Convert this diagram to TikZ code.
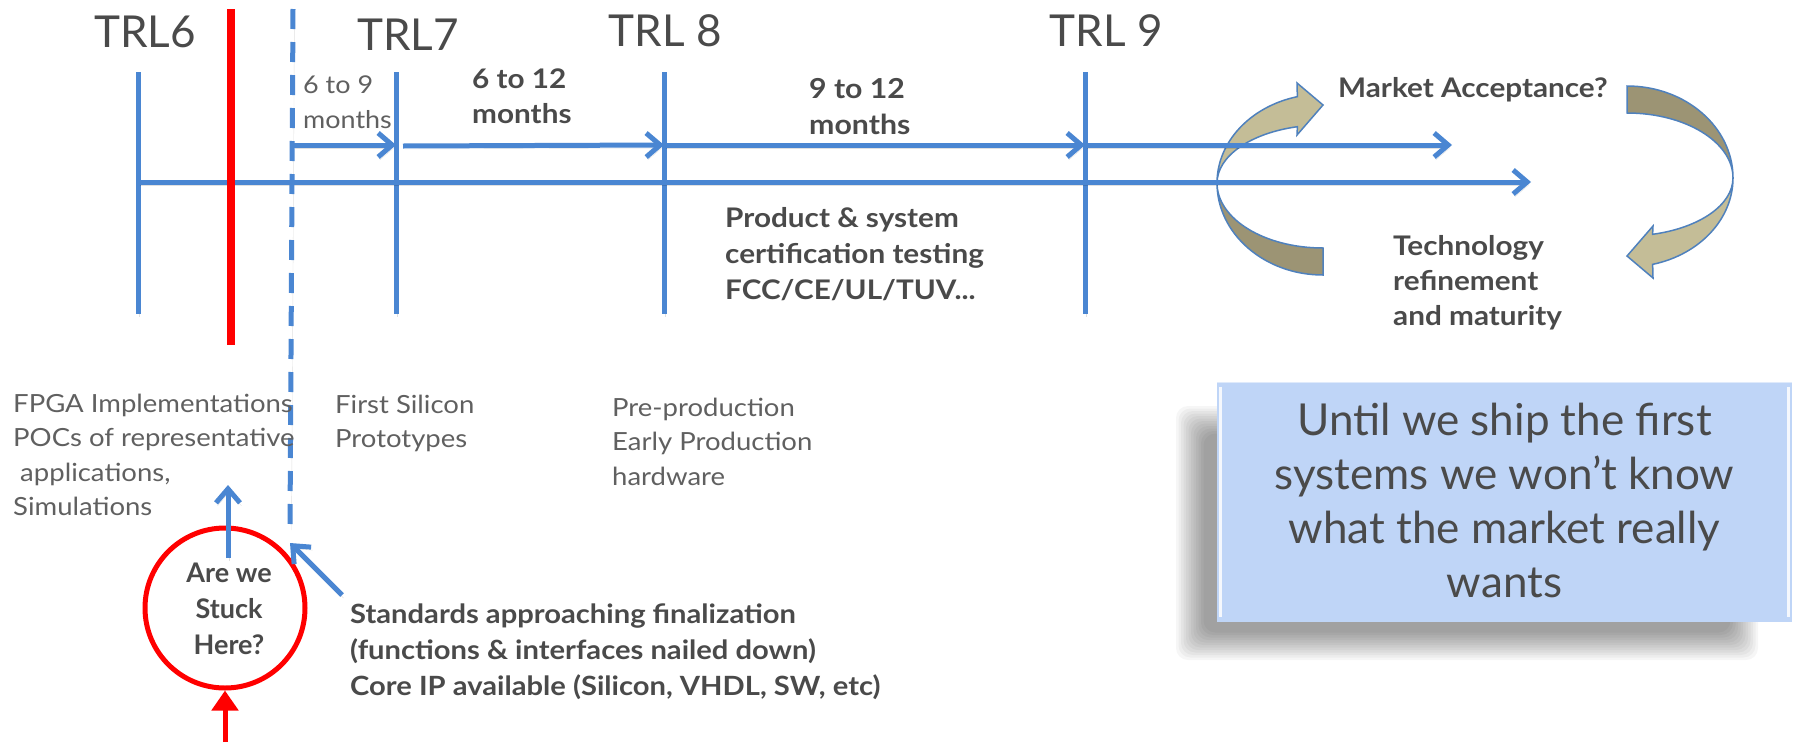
\documentclass[tikz,border=0pt]{standalone}
\usepackage{fontspec}
\setmainfont{Lato}[FakeStretch=1.1]
\newfontfamily\plainfont{Lato}
\usetikzlibrary{arrows.meta}

\definecolor{tlblue}{HTML}{4A86D2}
\definecolor{tlred}{HTML}{FF0000}
\definecolor{txtdark}{HTML}{4A4A4A}
\definecolor{txtlight}{HTML}{606060}
\definecolor{tanlight}{HTML}{C4BD97}
\definecolor{tandark}{HTML}{9C9474}
\definecolor{ribbonedge}{HTML}{4F81BD}
\definecolor{notefill}{HTML}{BFD5F7}

\newcommand\tblock[2]{\begin{tabular}[t]{@{}#1@{}}#2\end{tabular}}

\tikzset{
  ribbon/.pic={
    % back side of the twisted band (tail)
    \filldraw[fill=tandark, draw=ribbonedge, line width=1.5pt]
      (-106,0) arc[start angle=180, end angle=90, x radius=106, y radius=92]
      -- (0,65) arc[start angle=90, end angle=180, x radius=106, y radius=65] -- cycle;
    % front side with the arrow head
    \filldraw[fill=tanlight, draw=ribbonedge, line width=1.5pt]
      (-106,0) arc[start angle=180, end angle=256, x radius=106, y radius=89]
      -- (-26,-100) -- (0,-78) -- (-26,-48) -- (-25.6,-56.3)
      arc[start angle=256, end angle=180, x radius=106, y radius=58] -- cycle;
  }
}

\begin{document}
\begin{tikzpicture}[x=1pt, y=-1pt,
  blueline/.style={draw=tlblue, line width=5pt,
    preaction={draw=black, opacity=0.12, transform canvas={xshift=1.5pt, yshift=-3pt}}},
  bluearrow/.style={blueline, -{Straight Barb[length=14pt, width=24pt]}},
  redline/.style={draw=tlred, line width=5pt},
  trl/.style={font=\plainfont\fontsize{44}{50}\selectfont, text=txtdark, inner sep=0, anchor=base},
  boldtxt/.style={font=\bfseries\fontsize{27}{36}\selectfont, text=txtdark, inner sep=0, anchor=base west},
  lighttxt/.style={font=\fontsize{25}{34.5}\selectfont, text=txtlight, inner sep=0, anchor=base west},
  notetxt/.style={font=\plainfont\fontsize{44}{54}\selectfont, text=txtdark, inner sep=0, anchor=base},
]
\useasboundingbox (0,0) rectangle (1793,742);
\fill[white] (0,0) rectangle (1793,742);

% ---------- feedback loop ribbons ----------
\pic at (1323,183) {ribbon};
\pic[rotate=180] at (1627,178) {ribbon};

% ---------- milestone coordinates ----------
\coordinate (t6top) at (138,72);   \coordinate (t6bot) at (138,314);
\coordinate (t7top) at (396,72);   \coordinate (t7bot) at (396,314);
\coordinate (t8top) at (664,72);   \coordinate (t8bot) at (664,314);
\coordinate (t9top) at (1085,72);  \coordinate (t9bot) at (1085,314);
\coordinate (tlstart) at (138,182);
\coordinate (tlend) at (1531,182);
\coordinate (p0) at (293,145);
\coordinate (p1) at (396,145);
\coordinate (p1s) at (403,146);
\coordinate (p2) at (664,145);
\coordinate (p3) at (1085,145);
\coordinate (p4) at (1452,145);

% ---------- time line ----------
\draw[blueline] (t6top) -- (t6bot);
\draw[blueline] (t7top) -- (t7bot);
\draw[blueline] (t8top) -- (t8bot);
\draw[blueline] (t9top) -- (t9bot);
\draw[bluearrow] (tlstart) -- (tlend);
\draw[bluearrow] (p0) -- (p1);
\draw[bluearrow] (p1s) -- (p2);
\draw[bluearrow] (p2) -- (p3);
\draw[bluearrow] (p3) -- (p4);

% current position marker and standards line
\coordinate (redtop) at (231,9);
\coordinate (redbot) at (231,345);
\draw[draw=tlred, line width=8pt] (redtop) -- (redbot);
\coordinate (dashtop) at (293,9);
\coordinate (dashbot) at (290,527);
\draw[blueline, dash pattern=on 20pt off 13pt] (dashtop) -- (dashbot);

% ---------- milestone labels ----------
\node[trl] (trl6) at (145,47) {TRL6};
\node[trl] (trl7) at (408,50) {TRL7};
\node[trl] (trl8) at (665,46) {TRL 8};
\node[trl] (trl9) at (1106,46) {TRL 9};

% ---------- durations ----------
\node[lighttxt, font=\fontsize{24.5}{35}\selectfont] (d69) at (303,93) {\tblock{l}{6 to 9\\months}};
\node[boldtxt, font=\bfseries\fontsize{27}{35}\selectfont] (d612) at (472,88) {\tblock{l}{6 to 12\\months}};
\node[boldtxt, font=\bfseries\fontsize{27.5}{36}\selectfont] (d912) at (809,98) {\tblock{l}{9 to 12\\months}};

\node[boldtxt] (cert) at (725,227) {\tblock{l}{Product \& system\\certification testing\\FCC/CE/UL/TUV...}};
\node[boldtxt] (market) at (1338,97) {Market Acceptance?};
\node[boldtxt, font=\bfseries\fontsize{27}{35}\selectfont] (refine) at (1393,255) {\tblock{l}{Technology\\refinement\\and maturity}};

% ---------- deliverables ----------
\node[lighttxt] (fpga) at (13,412) {\tblock{l}{FPGA Implementations\\POCs of representative\\\ applications,\\Simulations}};
\node[lighttxt] (silicon) at (335,413) {\tblock{l}{First Silicon\\Prototypes}};
\node[lighttxt] (preprod) at (612,416) {\tblock{l}{Pre-production\\Early Production\\hardware}};

% ---------- question marker ----------
\node[draw=tlred, line width=5pt, circle, minimum size=160pt, inner sep=0] (stuck) at (225,608) {};
\node[boldtxt, anchor=base, font=\plainfont\bfseries\fontsize{27}{36}\selectfont] (stucktxt) at (229,582) {\tblock{c}{Are we\\Stuck\\Here?}};
\coordinate (redin) at (225,742);
\draw[redline, -{Triangle[length=20pt, width=26pt]}] (redin) -- (stuck.south);
\coordinate (upfrom) at (228,558);
\coordinate (upto) at (228,485);
\draw[bluearrow] (upfrom) -- (upto);

% ---------- standards note ----------
\node[boldtxt, font=\bfseries\fontsize{26.5}{36}\selectfont] (standards) at (350,623) {\tblock{l}{Standards approaching finalization\\(functions \& interfaces nailed down)\\Core IP available (Silicon, VHDL, SW, etc)}};
\coordinate (stdfrom) at (342,595);
\draw[bluearrow] (stdfrom) -- (dashbot |- 0,543);

% ---------- call-out box ----------
\foreach \i in {0,...,11}
  \fill[black, opacity=0.036, rounded corners=12pt]
    (1176+2.5*\i, 406+2.5*\i) rectangle (1758-2.5*\i, 660-2.5*\i);
\node[fill=notefill, minimum width=575pt, minimum height=240pt, inner sep=0] (note) at (1504.5,502) {};
\draw[white, opacity=0.85, line width=3pt] ([xshift=4pt,yshift=-5pt]note.north west) -- ([xshift=4pt,yshift=5pt]note.south west);
\draw[white, opacity=0.85, line width=3pt] ([xshift=-4pt,yshift=-5pt]note.north east) -- ([xshift=-4pt,yshift=5pt]note.south east);
\draw[white, opacity=0.5, line width=1.5pt] (note.north west) -- (note.north east);
\node[notetxt] (notetext) at (1504.5,435) {\tblock{c}{Until we ship the first\\systems we won’t know\\what the market really\\wants}};
\end{tikzpicture}
\end{document}
